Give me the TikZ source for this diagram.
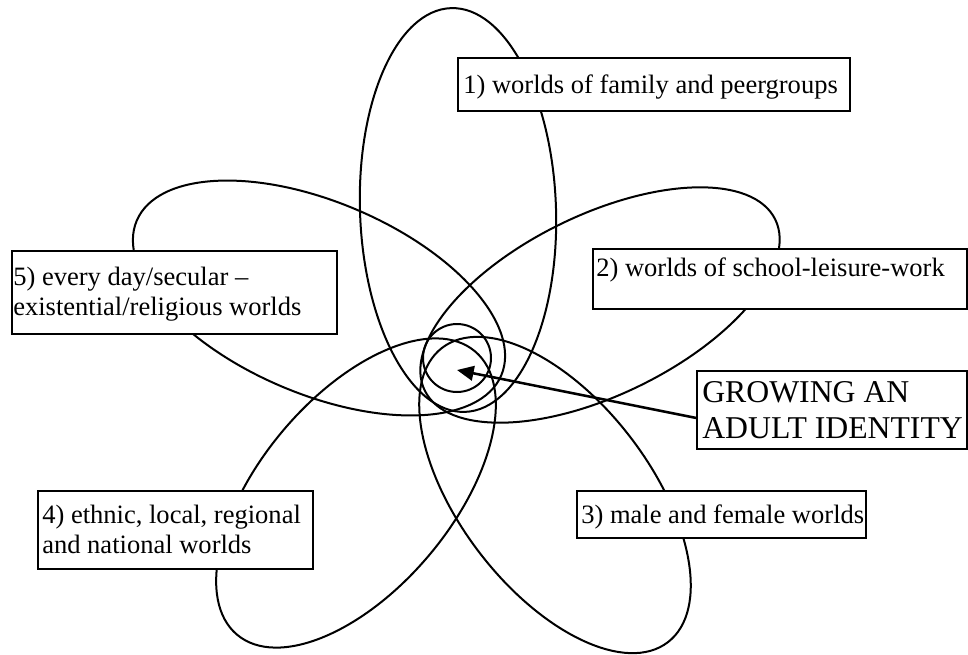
\documentclass[tikz,border=0pt]{standalone}
\usepackage{fontspec}
\setmainfont{Liberation Serif}
\usetikzlibrary{arrows.meta,calc}
\begin{document}
\begin{tikzpicture}[x=0.75pt,y=-0.75pt,
  petal/.style={line width=1.5pt},
  core/.style={circle, draw, line width=1.5pt, minimum size=51pt, inner sep=0pt},
  box/.style={draw, fill=white, line width=1.4pt, anchor=north west, inner sep=0pt},
  lbl/.style={anchor=base west, inner sep=0pt, font=\fontsize{19.9pt}{22.5pt}\selectfont},
  biglbl/.style={anchor=base west, inner sep=0pt, font=\fontsize{23.8pt}{27pt}\selectfont},
  pointer/.style={line width=1.9pt, -{Triangle[length=12.5pt, width=11pt]}}]
\useasboundingbox (0,0) rectangle (968,654);
% petals
\draw[petal, rotate around={92:(458,210)}] (458,210) ellipse [x radius=202, y radius=98];
\draw[petal, rotate around={26:(600,305)}] (600,305) ellipse [x radius=195, y radius=90];
\draw[petal, rotate around={-52.5:(555,495)}] (555,495) ellipse [x radius=185.5, y radius=95];
\draw[petal, rotate around={50:(356,493)}] (356,493) ellipse [x radius=185, y radius=96];
\draw[petal, rotate around={-23:(319,298)}] (319,298) ellipse [x radius=198, y radius=96];
\node[core] (centre) at (457,358) {};
% boxes
\node[box, minimum width=294pt, minimum height=39.75pt] (b1) at (457,57) {};
\node[box, minimum width=280.5pt, minimum height=45pt] (b2) at (592,248) {};
\node[box, minimum width=216.75pt, minimum height=35.25pt] (b3) at (576,490) {};
\node[box, minimum width=206.25pt, minimum height=58.5pt] (b4) at (37,490) {};
\node[box, minimum width=243.75pt, minimum height=62.25pt] (b5) at (11,250) {};
\node[box, minimum width=202.5pt, minimum height=58.5pt] (bG) at (696,370) {};
% texts
\node[lbl] (t1) at (463,93) {1) worlds of family and peergroups};
\node[lbl] (t2) at (596,276) {2) worlds of school-leisure-work};
\node[lbl] (t3) at (581,523) {3) male and female worlds};
\node[lbl] (t4) at (42,523) {\parbox[t]{200pt}{\raggedright 4) ethnic, local, regional\\and national worlds}};
\node[lbl] (t5) at (13,285) {\parbox[t]{240pt}{\raggedright 5) every day/secular --\\existential/religious worlds}};
\node[biglbl] (tG) at (702,402) {\parbox[t]{200pt}{\raggedright GROWING AN\\ADULT IDENTITY}};
% arrow
\coordinate (tip) at (457,370);
\draw[pointer] ($(bG.west)+(0,8)$) -- (tip);
\end{tikzpicture}
\end{document}
